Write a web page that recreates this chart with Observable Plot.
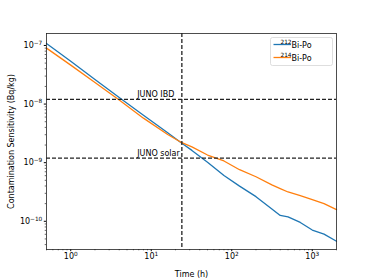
<!DOCTYPE html>
<html><head>
<meta charset="utf-8">
<script src="https://cdn.jsdelivr.net/npm/d3@7"></script>
<script src="https://cdn.jsdelivr.net/npm/@observablehq/plot@0.6"></script>
<style>body{margin:0;background:#fff}</style>
</head><body><div id="chart"></div>
<script>
const times = [0.5, 1, 2, 4, 8, 16, 24, 32, 50, 80, 125, 200, 315, 400, 500, 710, 1000, 1400, 2000];
const bi212 = [1.08e-7, 5.37e-8, 2.63e-8, 1.29e-8, 6.46e-9, 3.24e-9, 2.14e-9, 1.62e-9, 1.02e-9, 6.03e-10, 3.98e-10, 2.63e-10, 1.62e-10, 1.26e-10, 1.19e-10, 9.55e-11, 7.08e-11, 6.03e-11, 4.57e-11];
const bi214 = [9.0e-8, 4.62e-8, 2.34e-8, 1.17e-8, 5.75e-9, 3.02e-9, 2.19e-9, 1.86e-9, 1.35e-9, 1.07e-9, 7.59e-10, 5.75e-10, 4.17e-10, 3.6e-10, 3.16e-10, 2.75e-10, 2.34e-10, 2.0e-10, 1.58e-10];
const seriesMass = ["212", "214"];
const seriesNames = ["²¹²Bi-Po", "²¹⁴Bi-Po"];
const seriesColors = ["#1f77b4", "#ff7f0e"];
const markerTime = 24;
const thresholdNames = ["JUNO IBD", "JUNO solar"];
const thresholdValues = [1.2e-8, 1.2e-9];
const labelTime = 6.7;
const xTicks = [1, 10, 100, 1000];
const yTicks = [1e-10, 1e-9, 1e-8, 1e-7];

const supMap = {"-":"⁻","0":"⁰","1":"¹","2":"²","3":"³","4":"⁴","5":"⁵","6":"⁶","7":"⁷","8":"⁸","9":"⁹"};
const unsup = Object.fromEntries(Object.entries(supMap).map(([k, v]) => [v, k]));
const fmt = v => "10" + String(Math.round(Math.log10(v))).split("").map(c => supMap[c]).join("");

function minorTicks(lo, hi) {
  const out = [];
  for (let e = lo; e <= hi; e++) for (let m = 2; m <= 9; m++) out.push(m * Math.pow(10, e));
  return out;
}
const minorX = minorTicks(-1, 3).filter(v => v >= 0.5 && v <= 2000);
const minorY = minorTicks(-11, -7).filter(v => v >= 3.3e-11 && v <= 1.6e-7);

const rows = [];
times.forEach((t, i) => {
  rows.push({t, v: bi212[i], s: seriesNames[0]});
  rows.push({t, v: bi214[i], s: seriesNames[1]});
});
const thresholds = thresholdNames.map((n, i) => ({name: n, v: thresholdValues[i]}));

const plot = Plot.plot({
  width: 374, height: 280,
  marginLeft: 46, marginRight: 38, marginTop: 33, marginBottom: 31,
  style: {fontFamily: "DejaVu Sans", fontSize: "8px", background: "white", color: "black"},
  x: {type: "log", domain: [0.5, 2000]},
  y: {type: "log", domain: [3.3e-11, 1.6e-7]},
  color: {domain: seriesNames, range: seriesColors},
  marks: [
    Plot.axisX(minorX, {tickSize: 1.3, text: null, label: null, strokeWidth: 0.6}),
    Plot.axisX(xTicks, {tickSize: 2.2, tickPadding: 2, tickFormat: fmt, label: "Time (h)", labelAnchor: "center", labelArrow: "none", labelOffset: 27, fontSize: 8}),
    Plot.axisY(minorY, {tickSize: 1.3, text: null, label: null, strokeWidth: 0.6}),
    Plot.axisY(yTicks, {tickSize: 2.2, tickPadding: 2, tickFormat: fmt, label: "Contamination Sensitivity (Bq/kg)", labelAnchor: "center", labelArrow: "none", labelOffset: 38, fontSize: 8}),
    Plot.line(rows, {x: "t", y: "v", stroke: "s", strokeWidth: 1.3}),
    Plot.ruleY(thresholds, {y: "v", stroke: "#222", strokeWidth: 1.3, strokeDasharray: "4,2"}),
    Plot.ruleX([markerTime], {stroke: "#222", strokeWidth: 1.3, strokeDasharray: "4,2"}),
    Plot.text(thresholds, {x: () => labelTime, y: "v", text: "name", textAnchor: "start", lineAnchor: "bottom", dy: -2, fontSize: 8}),
    Plot.frame({stroke: "#222", strokeWidth: 0.8})
  ]
});

const svg = d3.select(plot);
// render exponents as raised, smaller text (like mathtext)
svg.selectAll('g[aria-label="x-axis tick label"] text, g[aria-label="y-axis tick label"] text').each(function() {
  const s = this.textContent;
  if (!s.startsWith("10")) return;
  const exp = s.slice(2).split("").map(c => unsup[c] ?? c).join("").replace("-", "−");
  const t = d3.select(this);
  t.text("10");
  t.append("tspan").attr("font-size", 5.8).attr("dy", -3.2).text(exp);
});

const lg = svg.append("g").attr("font-family", "DejaVu Sans").attr("font-size", 8);
lg.append("rect").attr("x", 270.5).attr("y", 37.5).attr("width", 62).attr("height", 28)
  .attr("rx", 2).attr("fill", "white").attr("fill-opacity", 0.8).attr("stroke", "#d6d6d6").attr("stroke-width", 0.8);
seriesMass.forEach((m, i) => {
  const y = 44.5 + i * 13;
  lg.append("line").attr("x1", 273.5).attr("x2", 291).attr("y1", y).attr("y2", y)
    .attr("stroke", seriesColors[i]).attr("stroke-width", 1.3);
  const t = lg.append("text").attr("x", 296).attr("y", y + 3).attr("fill", "black");
  t.append("tspan").attr("font-size", 5.8).attr("dy", -3.2).text(m);
  t.append("tspan").attr("dy", 3.2).text("Bi-Po");
});

document.getElementById("chart").appendChild(plot);
</script>
</body></html>
